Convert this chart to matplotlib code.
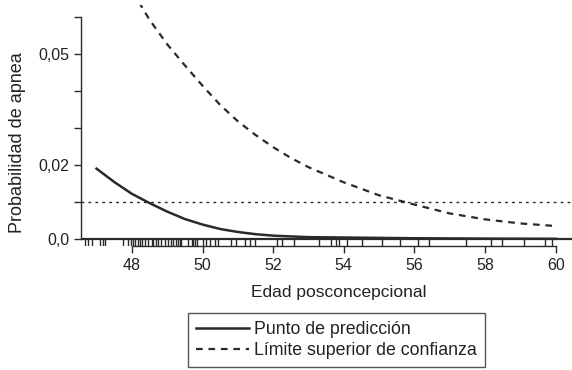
import numpy as np
import matplotlib
matplotlib.use('Agg')
import matplotlib.pyplot as plt

plt.rcParams['font.family'] = ['Liberation Sans', 'DejaVu Sans']

# curva de prediccion
edad_pred = [47.0, 47.5, 48.0, 48.5, 49.0, 49.5, 50.0, 50.5, 51.0, 51.5,
             52.0, 52.5, 53.0, 54.0, 56.0, 58.0, 60.0]
prob_pred = [0.0190, 0.0154, 0.0122, 0.0097, 0.0074, 0.0054, 0.0039, 0.0027,
             0.0019, 0.0013, 0.0009, 0.0007, 0.0005, 0.0004, 0.0002, 0.0001, 0.00005]

# limite superior de confianza
edad_sup = [48.2, 48.5, 49.0, 49.5, 50.0, 50.5, 51.0, 51.5, 52.0, 52.5,
            53.0, 54.0, 55.0, 56.0, 57.0, 58.0, 59.0, 60.0]
prob_sup = [0.0640, 0.0592, 0.0526, 0.0469, 0.0414, 0.0362, 0.0318, 0.0281,
            0.0248, 0.0219, 0.0194, 0.0153, 0.0118, 0.0093, 0.0069, 0.0053,
            0.0042, 0.0035]

umbral = 0.01

# rug de las edades observadas
rug = [46.67, 46.76, 46.88, 47.11, 47.17, 47.24, 47.75, 47.88, 47.97, 48.04,
       48.10, 48.18, 48.23, 48.30, 48.37, 48.46, 48.56, 48.60, 48.67, 48.74,
       48.82, 48.95, 49.01, 49.10, 49.17, 49.24, 49.31, 49.36, 49.40, 49.59,
       49.69, 49.73, 49.78, 49.84, 50.02, 50.11, 50.21, 50.35, 50.44, 50.82,
       50.96, 51.20, 51.35, 51.49, 52.12, 52.26, 52.59, 53.30, 53.63, 53.77,
       53.87, 54.10, 54.51, 55.08, 55.59, 56.11, 56.42, 57.45, 58.16, 58.47,
       59.10, 59.70, 59.89]

yticks = [0.0, 0.01, 0.02, 0.03, 0.04, 0.05, 0.06]
ytick_labels = ['0,0', '', '0,02', '', '', '0,05', '']
xticks = [48, 50, 52, 54, 56, 58, 60]

c = '#2a2a2a'
tc = '#222222'
fig = plt.figure(figsize=(5.72, 3.70), dpi=100)
ax = fig.add_axes([81/572, 1-246.4/370, 491/572, 241.4/370])

l1, = ax.plot(edad_pred, prob_pred, color=c, lw=1.8)
l2, = ax.plot(edad_sup, prob_sup, color=c, lw=1.6, ls=(0, (3, 2.6)))
ax.axhline(umbral, color=c, lw=1.0, ls=(0, (2, 3)))
ax.axhline(0, color=c, lw=1.6)
ax.vlines(rug, -0.002, 0, color=c, lw=1.0)

ax.set_xlim(46.56, 60.46)
ax.set_ylim(-0.002, 0.0632)
ax.spines['top'].set_visible(False)
ax.spines['right'].set_visible(False)
ax.spines['left'].set_bounds(0, 0.06)
ax.spines['bottom'].set_bounds(48, 60)
for s in ['left', 'bottom']:
    ax.spines[s].set_color(c)
    ax.spines[s].set_linewidth(1.0)

ax.set_yticks(yticks)
ax.set_yticklabels(ytick_labels)
ax.set_xticks(xticks)
ax.tick_params(length=5, width=1.0, color=c, labelsize=11.5, labelcolor=tc)

ax.set_xlabel('Edad posconcepcional', fontsize=12.5, color=tc)
ax.set_ylabel('Probabilidad de apnea', fontsize=13, color=tc)
ax.xaxis.set_label_coords(0.525, -0.16)
ax.yaxis.set_label_coords(-0.112, 0.43)

leg = fig.legend([l1, l2], ['Punto de predicción', 'Límite superior de confianza'],
                 loc='upper left', bbox_to_anchor=(188/572, 1-313/370),
                 fontsize=12.8, frameon=True, fancybox=False, handlelength=3.0,
                 handletextpad=0.25, labelspacing=0.25, borderpad=0.45,
                 borderaxespad=0)
leg.get_frame().set_edgecolor(c)
leg.get_frame().set_linewidth(1.0)
for t in leg.get_texts():
    t.set_color(tc)

fig.savefig('out.png', dpi=100)
